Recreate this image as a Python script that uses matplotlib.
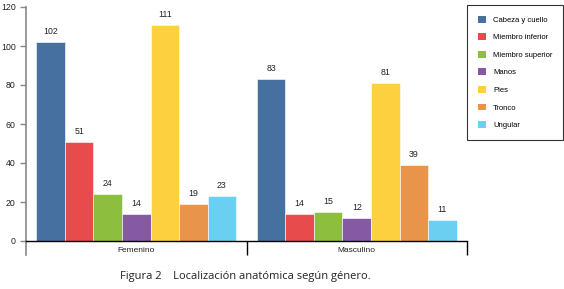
import matplotlib
matplotlib.use("Agg")
import matplotlib.pyplot as plt
import numpy as np
from matplotlib.patches import Patch

categories = ["Femenino", "Masculino"]
series = ["Cabeza y cuello", "Miembro inferior", "Miembro superior", "Manos", "Pies", "Tronco", "Ungular"]
values = {
    "Cabeza y cuello": [102, 83],
    "Miembro inferior": [51, 14],
    "Miembro superior": [24, 15],
    "Manos": [14, 12],
    "Pies": [111, 81],
    "Tronco": [19, 39],
    "Ungular": [23, 11],
}
colors = ["#46709F", "#E84B4B", "#8DBE3E", "#8659A5", "#FDD03F", "#E8944A", "#6BCFF1"]
yticks = [0, 20, 40, 60, 80, 100, 120]
caption = "Figura 2    Localización anatómica según género."

narrow = ["Liberation Sans", "DejaVu Sans"]

fig = plt.figure(figsize=(5.64, 2.89), dpi=100)
ax = fig.add_axes([26/564, 1-241/289, (467-26)/564, (241-7)/289])

n = len(series)
group_w = 0.907
bw = group_w / n
x = np.arange(len(categories)) + 0.5
for i, s in enumerate(series):
    pos = x - group_w/2 + bw*(i+0.5)
    bars = ax.bar(pos, values[s], width=bw, color=colors[i], edgecolor="white", linewidth=0.4)
    for b, v in zip(bars, values[s]):
        ax.text(b.get_x()+b.get_width()/2, v+3, str(v), ha="center", va="bottom",
                fontsize=6.3, family=narrow, color="#222222")

ax.set_xlim(0, 2)
ax.set_ylim(0, 120)
ax.set_yticks(yticks)
ax.set_yticklabels([str(t) for t in yticks], family=narrow, fontsize=6.3, color="#222222")
ax.tick_params(axis="y", direction="out", length=4.5, width=1, color="#888888", pad=3)

ax.set_xticks([1, 2])
ax.set_xticklabels([])
ax.tick_params(axis="x", which="major", direction="out", length=10, width=1, color="black")
ax.set_xticks(x, minor=True)
ax.set_xticklabels(categories, minor=True, family=narrow, fontsize=6, color="#222222")
ax.tick_params(axis="x", which="minor", length=0, pad=4)

for sp in ["top", "right"]:
    ax.spines[sp].set_visible(False)
ax.spines["left"].set_color("#888888")
ax.spines["left"].set_linewidth(1.2)
ax.spines["bottom"].set_color("black")
ax.spines["bottom"].set_linewidth(1)
ax.plot([0, 0], [-7, 0], color="#888888", lw=1.2, clip_on=False)

handles = [Patch(facecolor=c, edgecolor="none") for c in colors]
leg = fig.legend(handles, series, loc="upper left",
                 bbox_to_anchor=(467/564, 1-5/289), bbox_transform=fig.transFigure,
                 prop={"family": narrow, "size": 5.5}, frameon=True, fancybox=False,
                 handlelength=1.1, handleheight=1.0, labelspacing=1.25, borderpad=1.4,
                 handletextpad=0.9, borderaxespad=0)
leg.get_frame().set_edgecolor("black")
leg.get_frame().set_linewidth(0.8)

fig.text(245/564, 1-277/289, caption, ha="center", va="center", fontsize=8,
         family=["Open Sans", "DejaVu Sans"], color="#222222")

fig.savefig("out.png", dpi=100)
